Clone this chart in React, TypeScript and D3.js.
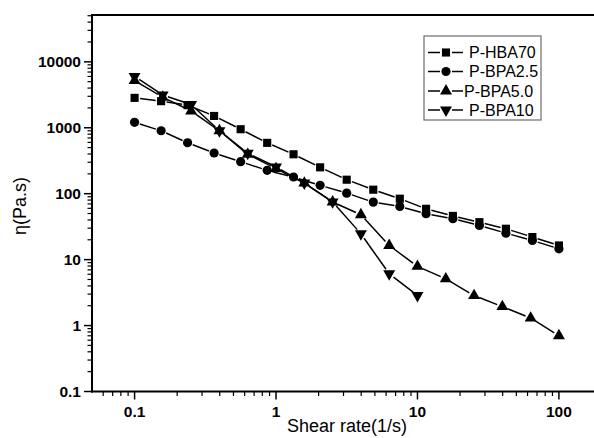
import React from "react";
import * as d3 from "d3";

// ---- data ----
const shearA = [0.1, 0.154, 0.237, 0.365, 0.562, 0.866, 1.33, 2.05, 3.16, 4.87, 7.5, 11.5, 17.8, 27.4, 42.2, 64.9, 100];
const shearB = [0.1, 0.158, 0.251, 0.398, 0.631, 1, 1.585, 2.512, 3.981, 6.31, 10, 15.85, 25.12, 39.81, 63.1, 100];
const shearC = [0.1, 0.158, 0.251, 0.398, 0.631, 1, 1.585, 2.512, 3.981, 6.31, 10];

const hba70 = [2840, 2530, 2200, 1510, 950, 590, 396, 251, 163, 115, 84, 59, 46, 37, 29.4, 22, 16.4];
const bpa25 = [1210, 900, 592, 414, 306, 226, 179, 134, 102, 74.5, 64, 49.7, 41.7, 33, 25.2, 19.5, 14.6];
const bpa50 = [5200, 2900, 1800, 900, 395, 240, 145, 75, 48, 16.4, 7.9, 5.1, 2.85, 1.94, 1.3, 0.7];
const bpa10 = [6000, 3150, 2250, 900, 410, 255, 145, 75, 24.7, 6.1, 2.85];

const seriesNames = ["P-HBA70", "P-BPA2.5", "P-BPA5.0", "P-BPA10"];
const seriesSymbols = ["square", "circle", "triUp", "triDown"];

const yMajorTicks = [0.1, 1, 10, 100, 1000, 10000];
const xMajorTicks = [0.1, 1, 10, 100];
const xTickLabels = ["0.1", "1", "10", "100"];
const yTickLabels = ["0.1", "1", "10", "100", "1000", "10000"];

const xTitle = "Shear rate(1/s)";
const yTitle = "η(Pa.s)";

// ---- layout ----
const W = 594;
const H = 438;
const left = 92;
const right = 594;
const top = 15;
const bottom = 391.5;

const x = d3.scaleLog().domain([0.05, 177]).range([left, right]);
const y = d3.scaleLog().domain([0.1, 51300]).range([bottom, top]);

const FONT = "'Liberation Sans', Arial, Helvetica, sans-serif";

function Marker({ kind, cx, cy }: { kind: string; cx: number; cy: number }) {
  if (kind === "square") {
    const p = d3.symbol().type(d3.symbolSquare).size(66)();
    return <path d={p as string} transform={`translate(${cx},${cy})`} fill="#000" />;
  }
  if (kind === "circle") {
    return <circle cx={cx} cy={cy} r={4.6} fill="#000" />;
  }
  const p = d3.symbol().type(d3.symbolTriangle).size(62)();
  const rot = kind === "triDown" ? 180 : 0;
  return <path d={p as string} transform={`translate(${cx},${cy}) rotate(${rot})`} fill="#000" />;
}

function gappedSegments(pts: [number, number][], gap: number) {
  const segs: [number, number, number, number][] = [];
  for (let i = 0; i < pts.length - 1; i++) {
    const [x1, y1] = pts[i];
    const [x2, y2] = pts[i + 1];
    const dx = x2 - x1;
    const dy = y2 - y1;
    const len = Math.hypot(dx, dy);
    if (len <= 2 * gap) continue;
    const ux = dx / len;
    const uy = dy / len;
    segs.push([x1 + ux * gap, y1 + uy * gap, x2 - ux * gap, y2 - uy * gap]);
  }
  return segs;
}

export default function App() {
  const data = [
    { xs: shearA, ys: hba70 },
    { xs: shearA, ys: bpa25 },
    { xs: shearB, ys: bpa50 },
    { xs: shearC, ys: bpa10 },
  ];

  const yMinor: number[] = [];
  for (let e = -1; e <= 4; e++) {
    for (let m = 2; m <= 9; m++) {
      const v = m * Math.pow(10, e);
      if (v < 51300) yMinor.push(v);
    }
  }
  const xMinor: number[] = [];
  for (let e = -2; e <= 2; e++) {
    for (let m = 2; m <= 9; m++) {
      const v = m * Math.pow(10, e);
      if (v > 0.05 && v < 177) xMinor.push(v);
    }
  }

  const legX = 424;
  const legY = 36;
  const legW = 117;
  const legH = 84;
  const legRows = [52.5, 71.5, 91, 110];

  return (
    <svg width={W} height={H} style={{ position: "absolute", left: 0, top: 0, background: "#fff" }} fontFamily={FONT}>
      <rect x={0} y={0} width={W} height={H} fill="#fff" />
      {/* series lines */}
      {data.map((s, si) => {
        const pts = s.xs.map((xv, i) => [x(xv), y(s.ys[i])] as [number, number]);
        return (
          <g key={`l${si}`}>
            {gappedSegments(pts, 5.5).map((g, i) => (
              <line key={i} x1={g[0]} y1={g[1]} x2={g[2]} y2={g[3]} stroke="#000" strokeWidth={1.5} />
            ))}
          </g>
        );
      })}
      {/* markers */}
      {data.map((s, si) => (
        <g key={`m${si}`}>
          {s.xs.map((xv, i) => (
            <Marker key={i} kind={seriesSymbols[si]} cx={x(xv)} cy={y(s.ys[i])} />
          ))}
        </g>
      ))}

      {/* axes frame */}
      <line x1={left} y1={top} x2={right} y2={top} stroke="#000" strokeWidth={2} />
      <line x1={left} y1={top - 1} x2={left} y2={bottom + 1} stroke="#000" strokeWidth={2} />
      <line x1={left - 1} y1={bottom} x2={right} y2={bottom} stroke="#000" strokeWidth={2} />

      {/* y ticks */}
      {yMajorTicks.map((v, i) => (
        <g key={`ym${i}`}>
          <line x1={left - 8} x2={left} y1={y(v)} y2={y(v)} stroke="#000" strokeWidth={1.5} />
          <text x={left - 11} y={y(v) + 5.5} textAnchor="end" fontSize={15.5} fontWeight="bold">
            {yTickLabels[i]}
          </text>
        </g>
      ))}
      {yMinor.map((v, i) => (
        <line key={`yn${i}`} x1={left - 4.5} x2={left} y1={y(v)} y2={y(v)} stroke="#000" strokeWidth={1.2} />
      ))}

      {/* x ticks */}
      {xMajorTicks.map((v, i) => (
        <g key={`xm${i}`}>
          <line x1={x(v)} x2={x(v)} y1={bottom} y2={bottom + 8} stroke="#000" strokeWidth={1.5} />
          <text x={x(v)} y={417} textAnchor="middle" fontSize={15.5} fontWeight="bold">
            {xTickLabels[i]}
          </text>
        </g>
      ))}
      {xMinor.map((v, i) => (
        <line key={`xn${i}`} x1={x(v)} x2={x(v)} y1={bottom} y2={bottom + 4.5} stroke="#000" strokeWidth={1.2} />
      ))}

      {/* titles */}
      <text x={347} y={432} textAnchor="middle" fontSize={18}>
        {xTitle}
      </text>
      <text transform={`translate(26,206) rotate(-90)`} textAnchor="middle" fontSize={18}>
        {yTitle}
      </text>

      {/* legend */}
      <rect x={legX} y={legY} width={legW} height={legH} fill="#fff" stroke="#777" strokeWidth={1.3} />
      {seriesNames.map((name, i) => {
        const cy = legRows[i];
        return (
          <g key={`lg${i}`}>
            <line x1={428} x2={440} y1={cy} y2={cy} stroke="#000" strokeWidth={1.5} />
            <line x1={452} x2={463} y1={cy} y2={cy} stroke="#000" strokeWidth={1.5} />
            <Marker kind={seriesSymbols[i]} cx={446} cy={cy} />
            <text x={i === 2 ? 464 : 469} y={cy + 5.5} fontSize={16}>
              {name}
            </text>
          </g>
        );
      })}
    </svg>
  );
}
